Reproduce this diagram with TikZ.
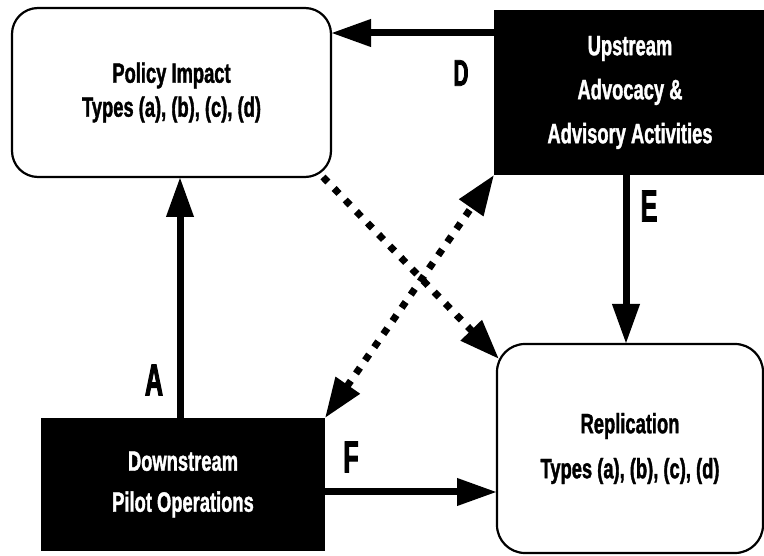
\documentclass[tikz,border=0pt]{standalone}
\usepackage{fontspec}
\setmainfont{Liberation Sans}[UprightFont={* Bold}, BoldFont={* Bold}, FakeStretch=0.655, FakeBold=1.3]
\newfontfamily\tagfont{Liberation Sans}[UprightFont={* Bold}, FakeStretch=0.56, FakeBold=2]
\usetikzlibrary{arrows.meta,positioning}

\begin{document}
\begin{tikzpicture}[x=1pt, y=1pt,
   whitebox/.style={draw, line width=2.2pt, rounded corners=26pt, inner sep=0pt, outer sep=0pt, align=center},
   blackbox/.style={fill=black, text=white, inner sep=0pt, outer sep=0pt, align=center},
   arr/.style={line width=7pt, -{Triangle[length=40pt,width=26pt]}},
   dotarr/.style={line width=7pt, dash pattern=on 7pt off 9pt, -{Triangle[length=40pt,width=28pt]}},
   tag/.style={font=\tagfont\fontsize{45}{45}\selectfont}]
   \useasboundingbox (0,0) rectangle (764,555);
   \node[whitebox, minimum width=319pt, minimum height=169pt, font=\fontsize{28}{34}\selectfont]
      (policy) at (171.5,462.5) {Policy Impact\\Types (a), (b), (c), (d)};
   \node[blackbox, minimum width=272pt, minimum height=165pt, font=\fontsize{28}{44}\selectfont]
      (upstream) at (630,462.5) {Upstream\\Advocacy \&\\Advisory Activities};
   \node[blackbox, minimum width=284pt, minimum height=133pt, font=\fontsize{28}{41}\selectfont]
      (downstream) at (183,70.5) {Downstream\\Pilot Operations};
   \node[whitebox, rounded corners=28pt, minimum width=266pt, minimum height=209pt, font=\fontsize{28}{45}\selectfont]
      (replication) at (630,106.5) {Replication\\Types (a), (b), (c), (d)};
   \coordinate (d0) at ([yshift=-23pt]upstream.north west);
   \coordinate (a0) at ([xshift=-3pt]downstream.north);
   \coordinate (e0) at ([xshift=-4pt]upstream.south);
   \coordinate (f0) at ([yshift=-7.5pt]downstream.east);
   \coordinate (p0) at ([xshift=-8pt]policy.south east);
   \coordinate (r0) at ([shift={(2pt,-15pt)}]replication.north west);
   \draw[arr] (d0) -- (d0 -| policy.east);
   \draw[arr] (a0) -- (a0 |- policy.south);
   \draw[arr] (e0) -- (e0 |- replication.north);
   \draw[arr] (f0) -- (f0 -| replication.west);
   \draw[dotarr] (p0) -- (r0);
   \draw[dotarr, {Triangle[length=40pt,width=28pt]}-{Triangle[length=40pt,width=28pt]}] (downstream.north east) -- (upstream.south west);
   \node[tag, font=\tagfont\fontsize{37}{37}\selectfont] (labD) at (461,482) {D};
   \node[tag] (labE) at (649,349) {E};
   \node[tag] (labA) at (154,175) {A};
   \node[tag] (labF) at (351,98) {F};
\end{tikzpicture}
\end{document}
